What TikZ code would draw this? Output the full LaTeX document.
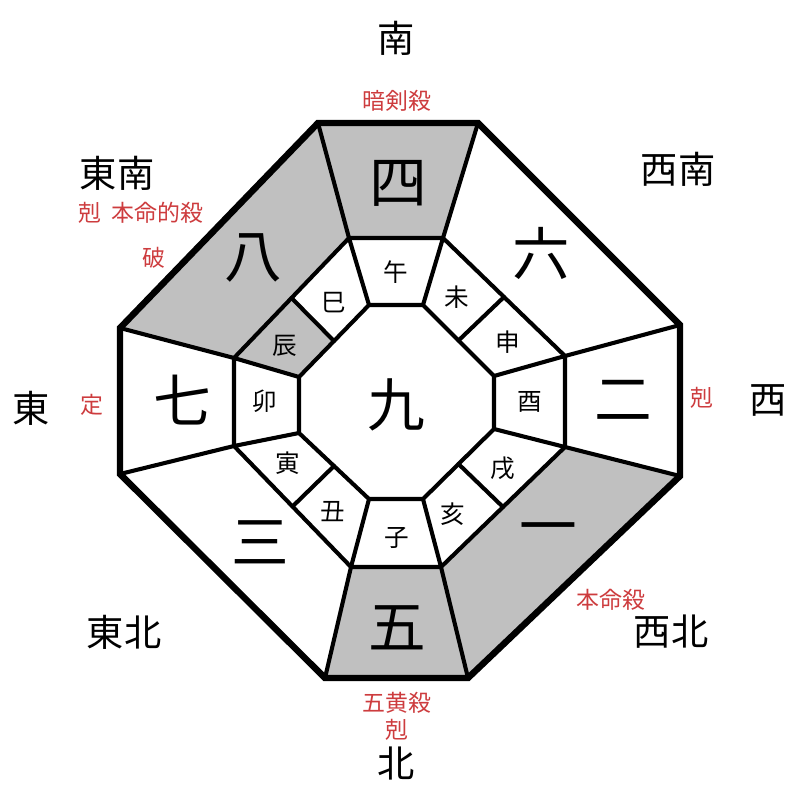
\documentclass[tikz,border=0pt]{standalone}
\usepackage{fontspec}
\usetikzlibrary{calc}
\newfontfamily\cjk{Noto Sans CJK JP}
\definecolor{fillgrey}{RGB}{192,192,192}
\definecolor{lblred}{RGB}{205,60,62}
\begin{document}
\begin{tikzpicture}[x=0.025cm,y=-0.025cm,
 dirlabel/.style={font=\cjk\fontsize{26.5}{26.5}\selectfont, inner sep=0pt},
 redlabel/.style={font=\cjk\fontsize{16.3}{16.3}\selectfont, text=lblred, inner sep=0pt},
 bignum/.style={font=\cjk\fontsize{41}{41}\selectfont, inner sep=0pt},
 zodiac/.style={font=\cjk\fontsize{17.5}{17.5}\selectfont, inner sep=0pt},
 thinline/.style={line width=2.9pt, line join=miter, line cap=round},
 thickline/.style={line width=4.6pt, line join=miter},
 greyfill/.style={fill=fillgrey, draw=none}]
\useasboundingbox (0,0) rectangle (800,800);
% outer octagon
\coordinate (O1) at (318,123);
\coordinate (O2) at (478,123);
\coordinate (O3) at (680,325);
\coordinate (O4) at (680,476);
\coordinate (O5) at (468,678);
\coordinate (O6) at (325,678);
\coordinate (O7) at (120,474);
\coordinate (O8) at (120,328);
% middle octagon
\coordinate (M1) at (349,238);
\coordinate (M2) at (443,238);
\coordinate (M3) at (565,356);
\coordinate (M4) at (565,447);
\coordinate (M5) at (441,567);
\coordinate (M6) at (351,567);
\coordinate (M7) at (234,446);
\coordinate (M8) at (234,358);
% inner octagon
\coordinate (I1) at (369,305);
\coordinate (I2) at (423,305);
\coordinate (I3) at (494,376);
\coordinate (I4) at (494,429);
\coordinate (I5) at (423,499);
\coordinate (I6) at (369,499);
\coordinate (I7) at (299,433);
\coordinate (I8) at (299,377);
% split points of the diagonal zodiac cells
\coordinate (A23) at ($(M2)!0.5!(M3)$);
\coordinate (B23) at ($(I2)!0.5!(I3)$);
\coordinate (A45) at ($(M4)!0.5!(M5)$);
\coordinate (B45) at ($(I4)!0.5!(I5)$);
\coordinate (A67) at ($(M6)!0.5!(M7)$);
\coordinate (B67) at ($(I6)!0.5!(I7)$);
\coordinate (A81) at ($(M8)!0.5!(M1)$);
\coordinate (B81) at ($(I8)!0.5!(I1)$);
% grey cells
\path[greyfill] (O1) -- (O2) -- (M2) -- (M1) -- cycle;
\path[greyfill] (O8) -- (O1) -- (M1) -- (M8) -- cycle;
\path[greyfill] (O4) -- (O5) -- (M5) -- (M4) -- cycle;
\path[greyfill] (O5) -- (O6) -- (M6) -- (M5) -- cycle;
\path[greyfill] (M8) -- (A81) -- (B81) -- (I8) -- cycle;
% lines
\draw[thinline] (M1) -- (M2) -- (M3) -- (M4) -- (M5) -- (M6) -- (M7) -- (M8) -- cycle;
\draw[thinline] (I1) -- (I2) -- (I3) -- (I4) -- (I5) -- (I6) -- (I7) -- (I8) -- cycle;
\foreach \k in {1,...,8} {
  \draw[thinline] (O\k) -- (M\k);
  \draw[thinline] (M\k) -- (I\k);
}
\draw[thinline] (A23) -- (B23);
\draw[thinline] (A45) -- (B45);
\draw[thinline] (A67) -- (B67);
\draw[thinline] (A81) -- (B81);
\draw[thickline] (O1) -- (O2) -- (O3) -- (O4) -- (O5) -- (O6) -- (O7) -- (O8) -- cycle;
% big numbers
\node[bignum] (n9) at (396,405) {九};
\node[bignum] (n4) at (398,183) {四};
\node[bignum] (n6) at (541,253) {六};
\node[bignum] (n2) at (623,400) {二};
\node[bignum] (n1) at (548,535) {一};
\node[bignum] (n5) at (397,628) {五};
\node[bignum] (n3) at (260,542) {三};
\node[bignum] (n7) at (182,400) {七};
\node[bignum] (n8) at (253,258) {八};
% zodiac
\node[zodiac] (zuma) at (396,272) {午};
\node[zodiac] (zhitsuji) at (457,297) {未};
\node[zodiac] (zsaru) at (508,342) {申};
\node[zodiac] (ztori) at (530,402) {酉};
\node[zodiac] (zinu) at (503,468) {戌};
\node[zodiac] (zi) at (453,514) {亥};
\node[zodiac] (zne) at (397,538) {子};
\node[zodiac] (zushi) at (333,512) {丑};
\node[zodiac] (ztora) at (288,463) {寅};
\node[zodiac] (zu) at (265,401) {卯};
\node[zodiac] (ztatsu) at (285,346) {辰};
\node[zodiac] (zmi) at (334,303) {巳};
% directions
\node[dirlabel] (dS) at (396,38) {南};
\node[dirlabel] (dSE) at (117,173) {東南};
\node[dirlabel] (dSW) at (678,169) {西南};
\node[dirlabel] (dE) at (31,408) {東};
\node[dirlabel] (dW) at (768,400) {西};
\node[dirlabel] (dNE) at (124,632) {東北};
\node[dirlabel] (dNW) at (671,632) {西北};
\node[dirlabel] (dN) at (396,763) {北};
% red labels
\node[redlabel] (rS) at (397,101) {暗剣殺};
\node[redlabel] (rSE) at (141,213) {剋\hspace{0.45em}本命的殺};
\node[redlabel] (rSE2) at (154,258) {破};
\node[redlabel] (rE) at (92,405) {定};
\node[redlabel] (rW) at (702,398) {剋};
\node[redlabel] (rNW) at (611,600) {本命殺};
\node[redlabel] (rN1) at (397,703) {五黄殺};
\node[redlabel] (rN2) at (397,730) {剋};
\end{tikzpicture}
\end{document}
